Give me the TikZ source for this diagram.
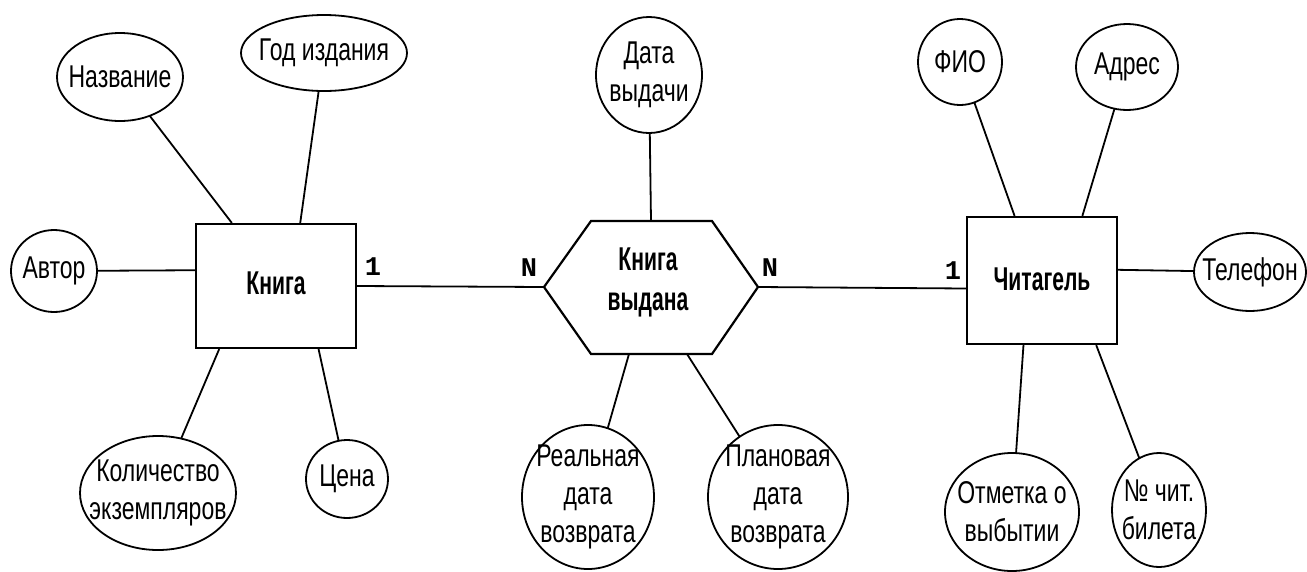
\documentclass[tikz,border=0pt]{standalone}
\usepackage{fontspec}
\setmainfont{Liberation Sans}
\newfontfamily\attrfont{Liberation Sans}[FakeStretch=0.73]
\newfontfamily\entfont{Liberation Sans}[FakeStretch=0.64]
\newfontfamily\cardfont{Liberation Mono}[BoldFont={Liberation Mono Bold}]
\usetikzlibrary{shapes.geometric}
\begin{document}
\begin{tikzpicture}[x=1pt,y=-1pt,
  attr/.style={draw, ellipse, line width=1.8pt, inner sep=0pt, outer sep=0pt},
  attrtext/.style={align=center, inner sep=0pt, font={\attrfont\fontsize{31.5}{38}\selectfont}},
  ent/.style={draw, rectangle, line width=2.2pt, inner sep=0pt, font={\entfont\bfseries\fontsize{33}{40}\selectfont}},
  reltext/.style={align=center, inner sep=0pt, font={\entfont\bfseries\fontsize{33}{40}\selectfont}},
  conn/.style={line width=1.8pt},
  card/.style={inner sep=0pt, font={\cardfont\bfseries\fontsize{27}{28}\selectfont}}]
\useasboundingbox (0,0) rectangle (1307,571);
\fill[white] (0,0) rectangle (1307,571);

% entities
\node[ent, minimum width=160pt, minimum height=124pt] (kniga) at (276,286) {\raisebox{5pt}{Книга}};
\node[ent, minimum width=150pt, minimum height=127pt] (chit) at (1042,280.5) {\raisebox{3pt}{Читагель}};

% relationship hexagon
\coordinate (hL) at (544,287);
\coordinate (hTL) at (591,221);
\coordinate (hTR) at (712,221);
\coordinate (hR) at (758,287);
\coordinate (hBR) at (712,354);
\coordinate (hBL) at (591,354);
\coordinate (hT) at (651,221);
\coordinate (hB1) at (629,354);
\coordinate (hB2) at (687,354);
\draw[line width=2.2pt, line join=miter] (hL) -- (hTL) -- (hTR) -- (hR) -- (hBR) -- (hBL) -- cycle;
\node[reltext] (rel) at (648,282) {Книга\\выдана};

% attributes of Книга
\node[attr, minimum width=126pt, minimum height=88pt, label={[attrtext]center:Название}] (nazv) at (120,77) {};
\node[attr, minimum width=166pt, minimum height=76pt, label={[attrtext]center:Год издания}] (god) at (324,53) {};
\node[attr, minimum width=86pt, minimum height=82pt, label={[attrtext]center:Автор}] (avtor) at (54,271) {};
\node[attr, minimum width=156pt, minimum height=114pt, label={[attrtext]center:Количество\\экземпляров}] (kol) at (158,493) {};
\node[attr, minimum width=82pt, minimum height=78pt, label={[attrtext]center:Цена}] (cena) at (347,479) {};

% attributes of relationship
\node[attr, minimum width=106pt, minimum height=116pt, label={[attrtext]center:Дата\\выдачи}] (data) at (649,75) {};
\node[attr, minimum width=132pt, minimum height=144pt, label={[attrtext]center:Реальная\\дата\\возврата}] (real) at (588,497) {};
\node[attr, minimum width=140pt, minimum height=144pt, label={[attrtext]center:Плановая\\дата\\возврата}] (plan) at (778,497) {};

% attributes of Читагель
\node[attr, minimum width=84pt, minimum height=86pt, label={[attrtext]center:ФИО}] (fio) at (960,62) {};
\node[attr, minimum width=102pt, minimum height=86pt, label={[attrtext]center:Адрес}] (adres) at (1127,67) {};
\node[attr, minimum width=112pt, minimum height=78pt, label={[attrtext]center:Телефон}] (tel) at (1250,272) {};
\node[attr, minimum width=134pt, minimum height=118pt, label={[attrtext]center:Отметка о\\выбытии}] (otm) at (1012,512) {};
\node[attr, minimum width=94pt, minimum height=114pt, label={[attrtext]center:№ чит.\\билета}] (num) at (1159,510) {};

% cardinalities
\node[card] (c1) at (373,267) {1};
\node[card] (c2) at (529,268) {N};
\node[card] (c3) at (770,268) {N};
\node[card] (c4) at (953,271) {1};

% connectors
\draw[conn] (kniga.east) -- (hL);
\draw[conn] (hR) -- (chit.186);
\draw[conn] (nazv) -- (kniga.125);
\draw[conn] (god) -- (kniga.69);
\draw[conn] (avtor) -- (kniga.169);
\draw[conn] (kol) -- (kniga.228);
\draw[conn] (cena) -- (kniga.304);
\draw[conn] (data) -- (hT);
\draw[conn] (real) -- (hB1);
\draw[conn] (plan) -- (hB2);
\draw[conn] (fio) -- (chit.113);
\draw[conn] (adres) -- (chit.58);
\draw[conn] (tel) -- (chit.8);
\draw[conn] (otm) -- (chit.254);
\draw[conn] (num) -- (chit.310);
\end{tikzpicture}
\end{document}
